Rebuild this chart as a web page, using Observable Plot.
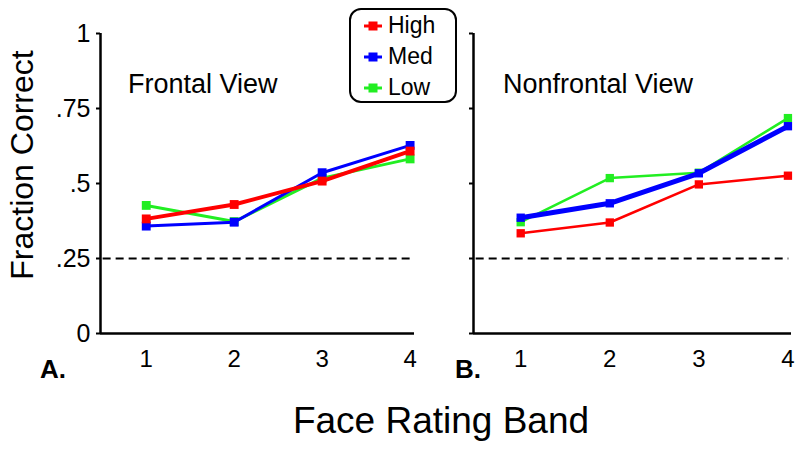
<!DOCTYPE html>
<html>
<head>
<meta charset="utf-8">
<script src="https://cdn.jsdelivr.net/npm/d3@7"></script>
<script src="https://cdn.jsdelivr.net/npm/@observablehq/plot@0.6"></script>
<style>
  html, body { margin: 0; padding: 0; background: #fff; }
  #chart { position: relative; width: 800px; height: 454px; overflow: hidden; font-family: "Liberation Sans", Arial, Helvetica, sans-serif; }
  #chart > svg { position: absolute; top: 0; }
  #legend { position: absolute; left: 349px; top: 8px; width: 104px; height: 91px; border: 2px solid #000; border-radius: 12px; background: #fff; }
  #legend .lrow { position: relative; height: 31px; }
  #legend .lrow span { position: absolute; left: 37px; top: 0; font-size: 23px; color: #000; line-height: 31px; }
  #legend .lrow svg { position: absolute; left: 12px; top: 10px; }
</style>
</head>
<body>
<div id="chart"></div>
<script>
// ---------- data ----------
const xBands = [1, 2, 3, 4];
const seriesNames = ["High", "Med", "Low"];
const seriesColors = ["#ff0000", "#0000ff", "#22ee22"];

const frontalHigh = [0.382, 0.430, 0.508, 0.608];
const frontalMed  = [0.358, 0.371, 0.536, 0.627];
const frontalLow  = [0.427, 0.373, 0.518, 0.582];

const nonfrontalHigh = [0.334, 0.370, 0.497, 0.526];
const nonfrontalMed  = [0.386, 0.434, 0.534, 0.691];
const nonfrontalLow  = [0.371, 0.518, 0.536, 0.718];

const yTicks = [0, 0.25, 0.5, 0.75, 1];
const yTickLabels = ["0", ".25", ".5", ".75", "1"];
const chanceLevel = [0.25];

const panelTitles = ["Frontal View", "Nonfrontal View"];
const panelLetters = ["A.", "B."];
const yLabel = "Fraction Correct";
const xLabel = "Face Rating Band";

// ---------- build tables ----------
function rows(series, values) {
  return values.map((v, i) => ({ band: xBands[i], value: v, series }));
}
const frontal = [
  ...rows("High", frontalHigh), ...rows("Med", frontalMed), ...rows("Low", frontalLow)
];
const nonfrontal = [
  ...rows("High", nonfrontalHigh), ...rows("Med", nonfrontalMed), ...rows("Low", nonfrontalLow)
];

const chart = document.getElementById("chart");
const FONT = "Liberation Sans, Arial, Helvetica, sans-serif";

function seriesMarks(data, order, widths, r) {
  return order.flatMap(s => {
    const d = data.filter(e => e.series === s);
    return [
      Plot.line(d, { x: "band", y: "value", stroke: "series", strokeWidth: widths[s], strokeLinejoin: "round" }),
      Plot.dot(d, { x: "band", y: "value", fill: "series", symbol: "square", r })
    ];
  });
}

function panel({ data, width, marginLeft, marginRight, xDomain, order, widths, r, labels }) {
  return Plot.plot({
    width, height: 454,
    marginLeft, marginRight, marginTop: 33, marginBottom: 121,
    style: { fontFamily: FONT, color: "#000", background: "transparent", overflow: "visible" },
    x: { domain: xDomain },
    y: { domain: [0, 1] },
    color: { domain: seriesNames, range: seriesColors },
    marks: [
      Plot.ruleY(chanceLevel, { stroke: "#000", strokeWidth: 2, strokeDasharray: "8,5", x1: xDomain[0] + 0.03, x2: xDomain[1] - 0.03 }),
      Plot.axisX({ ticks: xBands, tickSize: 0, tickPadding: 16, fontSize: 24, label: null, tickFormat: d => String(d) }),
      Plot.axisY({ ticks: yTicks, tickSize: 4, tickPadding: 6, fontSize: 25, label: null, strokeWidth: 2,
        tickFormat: labels ? (d => yTickLabels[yTicks.indexOf(d)]) : (() => "") }),
      Plot.ruleX([xDomain[0]], { stroke: "#000", strokeWidth: 2.5 }),
      Plot.ruleY([0], { stroke: "#000", strokeWidth: 2.5 }),
      ...seriesMarks(data, order, widths, r)
    ]
  });
}

const left = panel({
  data: frontal, width: 430, marginLeft: 100, marginRight: 16, xDomain: [0.48, 4.05],
  order: ["Low", "Med", "High"], widths: { High: 4, Med: 3, Low: 3 }, r: 5, labels: true
});
left.style.left = "0px";
chart.appendChild(left);

const right = panel({
  data: nonfrontal, width: 370, marginLeft: 43, marginRight: 9, xDomain: [0.47, 4.04],
  order: ["High", "Low", "Med"], widths: { High: 2.5, Med: 5, Low: 2.5 }, r: 4.7, labels: false
});
right.style.left = "430px";
chart.appendChild(right);

// ---------- text overlay ----------
const ns = "http://www.w3.org/2000/svg";
const ov = document.createElementNS(ns, "svg");
ov.setAttribute("width", 800); ov.setAttribute("height", 454);
ov.style.left = "0px"; ov.style.pointerEvents = "none";
ov.setAttribute("font-family", FONT);
function txt(str, x, y, size, opts = {}) {
  const t = document.createElementNS(ns, "text");
  t.textContent = str;
  t.setAttribute("x", x); t.setAttribute("y", y);
  t.setAttribute("font-size", size);
  t.setAttribute("fill", "#000");
  if (opts.anchor) t.setAttribute("text-anchor", opts.anchor);
  if (opts.bold) t.setAttribute("font-weight", "bold");
  if (opts.rotate) t.setAttribute("transform", `rotate(-90 ${x} ${y})`);
  ov.appendChild(t);
}
txt(panelTitles[0], 128, 93, 27);
txt(panelTitles[1], 503, 93, 27);
txt(panelLetters[0], 40, 378, 26, { bold: true });
txt(panelLetters[1], 455, 378, 26, { bold: true });
txt(yLabel, 33, 165, 32, { anchor: "middle", rotate: true });
txt(xLabel, 441, 433, 37, { anchor: "middle" });
chart.appendChild(ov);

// ---------- legend ----------
const legend = document.createElement("div");
legend.id = "legend";
seriesNames.forEach((name, i) => {
  const row = document.createElement("div");
  row.className = "lrow";
  const sw = document.createElementNS(ns, "svg");
  sw.setAttribute("width", 20); sw.setAttribute("height", 12);
  const ln = document.createElementNS(ns, "line");
  ln.setAttribute("x1", 1); ln.setAttribute("x2", 19); ln.setAttribute("y1", 6); ln.setAttribute("y2", 6);
  ln.setAttribute("stroke", seriesColors[i]); ln.setAttribute("stroke-width", 3);
  const rc = document.createElementNS(ns, "rect");
  rc.setAttribute("x", 5.5); rc.setAttribute("y", 1.5); rc.setAttribute("width", 9); rc.setAttribute("height", 9);
  rc.setAttribute("fill", seriesColors[i]);
  sw.appendChild(ln); sw.appendChild(rc);
  const sp = document.createElement("span");
  sp.textContent = name;
  row.appendChild(sw); row.appendChild(sp);
  legend.appendChild(row);
});
chart.appendChild(legend);
</script>
</body>
</html>
